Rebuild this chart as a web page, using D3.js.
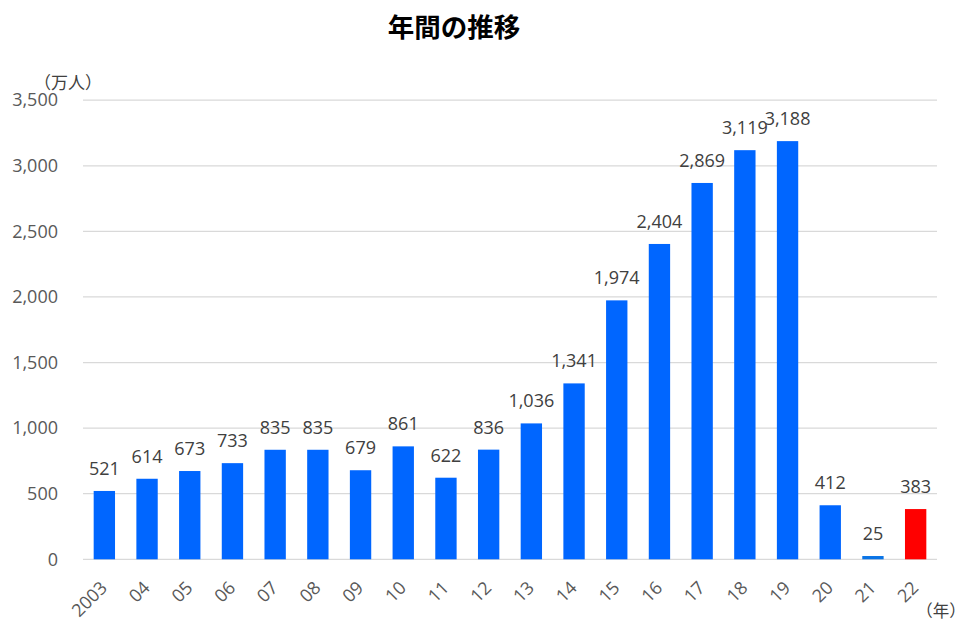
<!DOCTYPE html>
<html>
<head>
<meta charset="utf-8">
<script src="https://cdn.jsdelivr.net/npm/d3@7"></script>
<style>
  body { margin: 0; background: #fff; }
  svg { font-family: "Open Sans", "Noto Sans CJK JP", sans-serif; }
</style>
</head>
<body>
<div id="chart"></div>
<script>
// DATA
var years = ["2003","04","05","06","07","08","09","10","11","12","13","14","15","16","17","18","19","20","21","22"];
var visitors = [521,614,673,733,835,835,679,861,622,836,1036,1341,1974,2404,2869,3119,3188,412,25,383];
var yTicks = [0,500,1000,1500,2000,2500,3000,3500];

var width = 960, height = 624;
var margin = {top: 100, right: 23, bottom: 65, left: 83};

var svg = d3.select("#chart").append("svg")
  .attr("width", width)
  .attr("height", height);

// title
svg.append("text")
  .attr("x", 454).attr("y", 37)
  .attr("text-anchor", "middle")
  .attr("font-family", "Noto Sans CJK JP")
  .attr("font-weight", "bold")
  .attr("font-size", 26.5)
  .attr("fill", "#000")
  .text("年間の推移");

var x = d3.scaleBand()
  .domain(years)
  .range([margin.left, width - margin.right])
  .paddingInner(0.5).paddingOuter(0.25);

var y = d3.scaleLinear()
  .domain([0, 3500])
  .range([559.3, 100.2]);

// gridlines
svg.append("g")
  .selectAll("line")
  .data(yTicks)
  .enter().append("line")
    .attr("x1", margin.left)
    .attr("x2", width - margin.right)
    .attr("y1", function(d){ return y(d); })
    .attr("y2", function(d){ return y(d); })
    .attr("stroke", "#d9d9d9")
    .attr("stroke-width", 1.3);

// y axis labels
var yAxis = svg.append("g")
  .attr("transform", "translate(58,0)")
  .call(d3.axisLeft(y).tickValues(yTicks).tickSize(0).tickPadding(0).tickFormat(d3.format(",")));
yAxis.select(".domain").remove();
yAxis.selectAll("text")
  .attr("font-family", "Open Sans")
  .attr("font-size", 18)
  .attr("fill", "#595959");

// x axis labels
var xAxis = svg.append("g")
  .attr("transform", "translate(0,566)")
  .call(d3.axisBottom(x).tickSize(0).tickPadding(0));
xAxis.select(".domain").remove();
xAxis.selectAll("text")
  .attr("font-family", "Open Sans")
  .attr("font-size", 18)
  .attr("fill", "#595959")
  .attr("y", 0)
  .attr("dy", 0)
  .style("text-anchor", "end")
  .attr("transform", "translate(4,23)rotate(-45)");

// bars
svg.append("g")
  .selectAll("rect")
  .data(visitors)
  .enter().append("rect")
    .attr("x", function(d,i){ return x(years[i]); })
    .attr("width", x.bandwidth())
    .attr("y", function(d){ return y(d); })
    .attr("height", function(d){ return y(0) - y(d); })
    .attr("fill", function(d,i){ return years[i] == "22" ? "#ff0000" : (years[i] == "21" ? "#0a74e6" : "#0066ff"); });

// value labels
svg.append("g")
  .selectAll("text")
  .data(visitors)
  .enter().append("text")
    .attr("x", function(d,i){ return x(years[i]) + x.bandwidth()/2; })
    .attr("y", function(d){ return y(d) - 16; })
    .attr("text-anchor", "middle")
    .attr("font-family", "Open Sans")
    .attr("font-size", 18)
    .attr("fill", "#404040")
    .text(function(d){ return d3.format(",")(d); });

// unit labels
svg.append("text")
  .attr("x", 68).attr("y", 89)
  .attr("text-anchor", "middle")
  .attr("font-family", "Noto Sans CJK JP")
  .attr("font-size", 17)
  .attr("fill", "#404040")
  .text("（万人）");

svg.append("text")
  .attr("x", 941).attr("y", 617)
  .attr("text-anchor", "middle")
  .attr("font-family", "Noto Sans CJK JP")
  .attr("font-size", 16.5)
  .attr("fill", "#404040")
  .text("（年）");
</script>
</body>
</html>
